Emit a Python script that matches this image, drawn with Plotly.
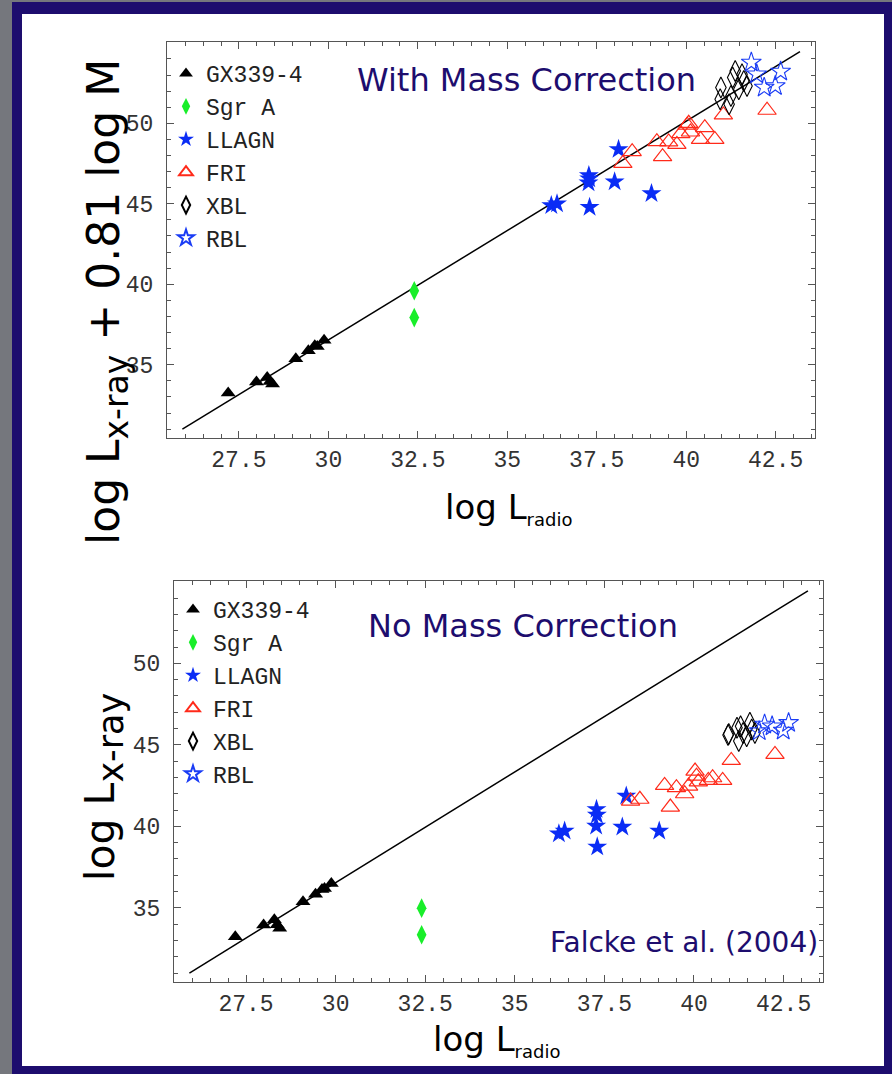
import plotly.graph_objects as go

# ---- data: log L_radio (shared), log L_x-ray + 0.81 log M (mass corrected), log L_x-ray ----
gx_lr = [27.20, 27.99, 28.29, 28.37, 28.44, 29.09, 29.44, 29.62, 29.69, 29.88]
gx_lx_m = [33.24, 33.93, 34.21, 33.96, 33.80, 35.38, 35.87, 36.18, 36.14, 36.52]
gx_lx = [33.22, 33.94, 34.27, 33.96, 33.75, 35.37, 35.84, 36.12, 36.18, 36.49]

sgr_lr = [32.40, 32.40]
sgr_lx_m = [39.60, 37.93]
sgr_lx = [34.98, 33.35]

llagn_lr = [36.23, 36.39, 37.28, 37.29, 37.27, 37.30, 38.00, 38.11, 39.03]
llagn_lx_m = [44.90, 45.00, 46.76, 46.55, 46.31, 44.79, 46.37, 48.38, 45.64]
llagn_lx = [39.55, 39.71, 41.04, 40.69, 40.02, 38.74, 39.96, 41.86, 39.71]

fri_lr = [38.23, 38.49, 39.18, 39.34, 39.51, 39.74, 39.85, 40.03, 40.07, 40.12,
          40.40, 40.52, 40.80, 41.04, 42.26]
fri_lx_m = [47.51, 48.24, 48.86, 47.93, 48.84, 48.69, 49.36, 49.88, 50.00, 49.46,
            49.00, 49.73, 49.00, 50.52, 50.81]
fri_lx = [41.55, 41.66, 42.51, 41.18, 42.37, 42.00, 42.47, 43.39, 43.08, 42.73,
          42.82, 42.98, 42.82, 44.04, 44.41]

xbl_lr = [40.95, 40.97, 41.20, 41.25, 41.30, 41.37, 41.47, 41.56, 41.61, 41.70]
xbl_lx_m = [51.49, 52.22, 51.18, 51.70, 52.84, 53.25, 52.12, 53.05, 52.63, 52.32]
xbl_lx = [45.60, 45.67, 46.04, 45.23, 46.14, 45.73, 45.53, 46.35, 45.94, 45.73]

rbl_lr = [41.82, 41.97, 42.18, 42.49, 42.64]
rbl_lx_m = [53.78, 53.05, 52.22, 52.32, 53.22]
rbl_lx = [45.84, 46.25, 46.14, 45.88, 46.35]

# correlation line (end points)
line_lr = [25.92, 43.18]
line_lx = [31.00, 54.45]

x_tickvals = [27.5, 30, 32.5, 35, 37.5, 40, 42.5]
x_ticktext = ["27.5", "30", "32.5", "35", "37.5", "40", "42.5"]
y_tickvals = [35, 40, 45, 50]
y_ticktext = ["35", "40", "45", "50"]

W, H = 892, 1074
NAVY = "#1d0d6e"
MONO = "Liberation Mono"
SANS = "DejaVu Sans"

series = [
    ("GX339-4", gx_lr, gx_lx_m, gx_lx, dict(symbol="triangle-up", size=13, color="black")),
    ("Sgr A", sgr_lr, sgr_lx_m, sgr_lx, dict(symbol="diamond-tall", size=14, color="#19ee2a")),
    ("LLAGN", llagn_lr, llagn_lx_m, llagn_lx, dict(symbol="star", size=15, color="#0a2cf5")),
    ("FRI", fri_lr, fri_lx_m, fri_lx,
     dict(symbol="triangle-up-open", size=16, color="#ff2a1a", line=dict(width=1.2, color="#ff2a1a"))),
    ("XBL", xbl_lr, xbl_lx_m, xbl_lx,
     dict(symbol="diamond-tall-open", size=15, color="black", line=dict(width=1.1, color="black"))),
    ("RBL", rbl_lr, rbl_lx_m, rbl_lx,
     dict(symbol="star-open", size=15, color="#1a3cf5", line=dict(width=1.1, color="#1a3cf5"))),
]

fig = go.Figure()

for ax in ("", "2"):
    fig.add_trace(go.Scatter(x=line_lr, y=line_lx, mode="lines",
                             line=dict(color="black", width=1.5), showlegend=False,
                             xaxis="x" + ax, yaxis="y" + ax, hoverinfo="skip"))

for name, lr, lxm, lx, mk in series:
    fig.add_trace(go.Scatter(x=lr, y=lxm, mode="markers", name=name, marker=mk,
                             xaxis="x", yaxis="y", legend="legend"))
    fig.add_trace(go.Scatter(x=lr, y=lx, mode="markers", name=name, marker=mk,
                             xaxis="x2", yaxis="y2", legend="legend2"))


def xdom(a, b):
    return [a / W, b / W]


def ydom(top, bottom):
    return [1 - bottom / H, 1 - top / H]


axis_common = dict(
    showline=True, linecolor="#555555", linewidth=1, mirror="allticks",
    ticks="inside", ticklen=7, tickwidth=1, tickcolor="#555555",
    showgrid=False, zeroline=False,
    tickfont=dict(family=MONO, size=23, color="#333333"),
)

xaxis_common = dict(axis_common, range=[25.49, 43.6], tickmode="array",
                    tickvals=x_tickvals, ticktext=x_ticktext,
                    minor=dict(tickmode="linear", tick0=27.5, dtick=0.5, ticks="inside",
                               ticklen=4, tickcolor="#555555", showgrid=False))
yaxis_common = dict(axis_common, range=[30.45, 55.05], tickmode="array",
                    tickvals=y_tickvals, ticktext=y_ticktext, ticklabelstandoff=8,
                    minor=dict(tickmode="linear", tick0=35, dtick=1, ticks="inside",
                               ticklen=4, tickcolor="#555555", showgrid=False))

legend_common = dict(
    xanchor="left", yanchor="top", bgcolor="rgba(0,0,0,0)",
    font=dict(family=MONO, size=23, color="#222222"),
    itemsizing="constant", tracegroupgap=0,
)


def label(text, x, y, size, color="black", family=SANS, angle=0):
    return dict(text=text, x=x / W, y=1 - y / H, xref="paper", yref="paper",
                xanchor="center", yanchor="middle", showarrow=False, textangle=angle,
                font=dict(family=family, size=size, color=color))


def sub(text, size):
    return "<sub><span style='font-size:%dpx'>%s</span></sub>" % (size, text)


fig.update_layout(
    width=W, height=H,
    margin=dict(l=0, r=0, t=0, b=0),
    paper_bgcolor="#75777d",
    plot_bgcolor="white",
    xaxis=dict(xaxis_common, domain=xdom(167, 815), anchor="y"),
    yaxis=dict(yaxis_common, domain=ydom(42, 438), anchor="x"),
    xaxis2=dict(xaxis_common, domain=xdom(174, 823), anchor="y2"),
    yaxis2=dict(yaxis_common, domain=ydom(581, 982), anchor="x2"),
    legend=dict(legend_common, x=166 / W, y=1 - 52 / H),
    legend2=dict(legend_common, x=173 / W, y=1 - 588 / H),
    shapes=[
        dict(type="rect", xref="paper", yref="paper", x0=12 / W, x1=1.0, y0=0.0, y1=1 - 2 / H,
             fillcolor=NAVY, line=dict(width=0), layer="below"),
        dict(type="rect", xref="paper", yref="paper", x0=22 / W, x1=884 / W,
             y0=1 - 1066 / H, y1=1 - 14 / H,
             fillcolor="white", line=dict(width=0), layer="below"),
    ],
    annotations=[
        label("With Mass Correction", 526, 80, 32, NAVY),
        label("No Mass Correction", 523, 626, 32, NAVY),
        label("Falcke et al. (2004)", 684, 942, 28, NAVY),
        label("log L" + sub("x-ray", 33) + " + 0.81 log M", 107, 302, 44, angle=-90),
        label("log L" + sub("x-ray", 35) + "", 103, 787, 41, angle=-90),
        label("log L" + sub("radio", 18), 508, 508, 34),
        label("log L" + sub("radio", 18), 496, 1040, 34),
    ],
)

fig.write_html("out.html")
